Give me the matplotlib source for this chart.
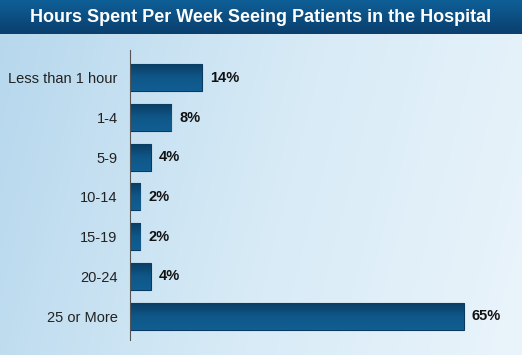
import matplotlib
matplotlib.use("Agg")
import matplotlib.pyplot as plt
import numpy as np
from matplotlib.colors import LinearSegmentedColormap

categories = ["Less than 1 hour", "1-4", "5-9", "10-14", "15-19", "20-24", "25 or More"]
values = [14, 8, 4, 2, 2, 4, 65]
title = "Hours Spent Per Week Seeing Patients in the Hospital"

W, H = 522, 355
fig = plt.figure(figsize=(W / 100, H / 100), dpi=100)

# ---- background gradient ----
bg = fig.add_axes([0, 0, 1, 1])
bg_cmap = LinearSegmentedColormap.from_list("bg", ["#b6d7ed", "#d6eaf6", "#eaf4fb"])
xx = np.linspace(0, 1, 256)
yy = np.linspace(0, 1, 64)
grad = xx[None, :] * 0.85 + (1 - yy[:, None]) * 0.15
bg.imshow(grad, cmap=bg_cmap, aspect="auto", extent=[0, 1, 0, 1], origin="lower")
bg.set_xlim(0, 1)
bg.set_ylim(0, 1)
bg.axis("off")

# ---- title bar ----
tb = fig.add_axes([0, 1 - 34 / H, 1, 34 / H])
tb_cmap = LinearSegmentedColormap.from_list("tb", ["#0a3f6e", "#0f5f97"])
tb.imshow(np.linspace(0, 1, 64)[:, None], cmap=tb_cmap, aspect="auto",
          extent=[0, 1, 0, 1], origin="lower")
tb.set_xlim(0, 1)
tb.set_ylim(0, 1)
tb.axis("off")
tb.text(0.5, 0.5, title, color="white", fontsize=13, fontweight="bold",
        family=["Liberation Sans", "DejaVu Sans"], ha="center", va="center")

# ---- bars ----
x0, x1 = 130, 522
y_top, y_bot = 50, 340
ax = fig.add_axes([x0 / W, 1 - y_bot / H, (x1 - x0) / W, (y_bot - y_top) / H])
ax.patch.set_alpha(0)
px_per_unit = (465 - 131) / 65.0
xmax = (x1 - x0) / px_per_unit
ax.set_xlim(0, xmax)
pos = np.arange(len(categories))
ax.set_ylim(len(categories) - 1 + 0.6, -0.7)

bar_cmap = LinearSegmentedColormap.from_list("bar", ["#0a3c62", "#0f5788", "#115e92"])
bars = ax.barh(pos, values, height=0.68, color="#0f5587", edgecolor="#0a3a5f", linewidth=0.8)
for b in bars:
    bx, by = b.get_x(), b.get_y()
    bw, bh = b.get_width(), b.get_height()
    im = ax.imshow(np.linspace(0, 1, 32)[:, None], cmap=bar_cmap, aspect="auto",
                   extent=[bx, bx + bw, by, by + bh], origin="lower", zorder=b.get_zorder())
    im.set_clip_path(b)
ax.set_xlim(0, xmax)
ax.set_ylim(len(categories) - 1 + 0.6, -0.7)

for p, v in zip(pos, values):
    ax.text(v + 8 / px_per_unit, p, f"{v}%", va="center", ha="left",
            fontsize=10.5, fontweight="bold", color="#111111",
            family=["Liberation Sans", "DejaVu Sans"])

ax.set_yticks(pos)
ax.set_yticklabels(categories, fontsize=10.5, color="#222222",
                   family=["Liberation Sans", "DejaVu Sans"])
ax.tick_params(axis="y", length=0, pad=9)
ax.set_xticks([])
for s in ["top", "right", "bottom"]:
    ax.spines[s].set_visible(False)
ax.spines["left"].set_color("#555555")
ax.spines["left"].set_linewidth(0.8)

fig.savefig("out.png", dpi=100)
